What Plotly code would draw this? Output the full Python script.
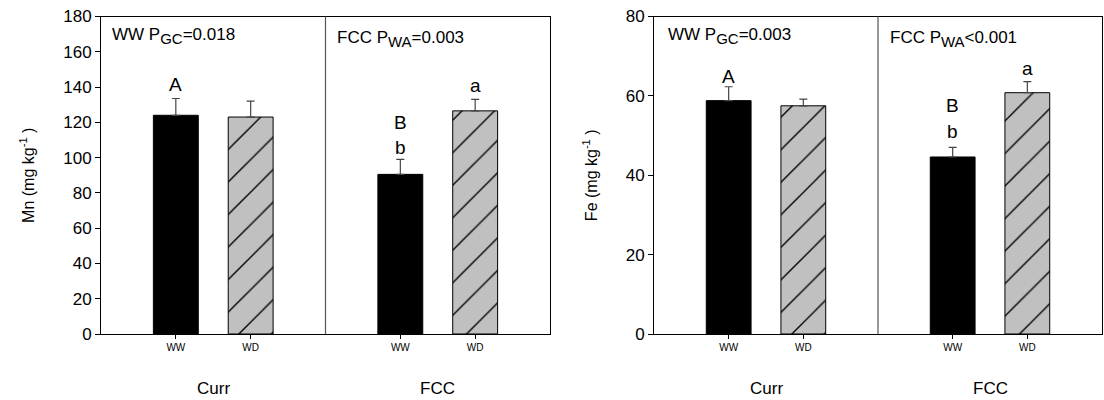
import plotly.graph_objects as go

# ---- data ----
x_pos = [1, 2, 4, 5]
tick_labels = ["WW", "WD", "WW", "WD"]
groups = ["Curr", "FCC"]
group_centers = [1.5, 4.5]

mn_ww = [124.0, 90.5]
mn_ww_err = [9.5, 8.5]
mn_wd = [123.0, 126.5]
mn_wd_err = [9.0, 6.5]

fe_ww = [58.8, 44.6]
fe_ww_err = [3.5, 2.4]
fe_wd = [57.5, 60.8]
fe_wd_err = [1.7, 2.8]

mn_letters = [("A", 1, 141.5), ("B", 4, 120.0), ("b", 4, 105.5), ("a", 5, 141.0)]
fe_letters = [("A", 1, 65.0), ("B", 4, 57.7), ("b", 4, 51.0), ("a", 5, 66.8)]

SUB = '<sub><span style="font-size:15px">{}</span></sub>'
mn_notes = [("WW P" + SUB.format("GC") + "=0.018", 0.12, 169),
            ("FCC P" + SUB.format("WA") + "=0.003", 3.13, 167)]
fe_notes = [("WW P" + SUB.format("GC") + "=0.003", 0.16, 75.2),
            ("FCC P" + SUB.format("WA") + "<0.001", 3.14, 74.3)]

FONT = "Liberation Sans, Arial, sans-serif"
W, H = 1104, 400

fig = go.Figure()

def add_panel(xa, ya, ww, ww_err, wd, wd_err):
    fig.add_trace(go.Bar(
        x=[x_pos[0], x_pos[2]], y=ww, width=0.6,
        marker=dict(color="black", line=dict(color="black", width=1)),
        error_y=dict(type="data", array=ww_err, arrayminus=[0, 0], symmetric=False,
                     color="#444444", thickness=1.2, width=4),
        xaxis=xa, yaxis=ya, showlegend=False))
    fig.add_trace(go.Bar(
        x=[x_pos[1], x_pos[3]], y=wd, width=0.6,
        marker=dict(color="#c0c0c0", line=dict(color="black", width=1),
                    pattern=dict(shape="/", fgcolor="black", bgcolor="#c0c0c0",
                                 size=23, solidity=0.06, fillmode="replace")),
        error_y=dict(type="data", array=wd_err, arrayminus=[0, 0], symmetric=False,
                     color="#444444", thickness=1.2, width=4),
        xaxis=xa, yaxis=ya, showlegend=False))

add_panel("x", "y", mn_ww, mn_ww_err, mn_wd, mn_wd_err)
add_panel("x2", "y2", fe_ww, fe_ww_err, fe_wd, fe_wd_err)

ytop = 1 - 16.5 / H
ybot = 1 - 334 / H

xcommon = dict(range=[0, 6], tickmode="array", tickvals=x_pos, ticktext=tick_labels,
               ticks="outside", ticklen=4, tickcolor="black", showline=True,
               linecolor="black", linewidth=1, mirror=True, showgrid=False, zeroline=False,
               automargin=False,
               tickfont=dict(family=FONT, size=10, color="black"))
ycommon = dict(ticks="outside", ticklen=5, tickcolor="black", showline=True,
               linecolor="black", linewidth=1, mirror=True, showgrid=False, zeroline=False,
               automargin=False,
               tickfont=dict(family=FONT, size=17, color="black"))

fig.update_layout(
    width=W, height=H,
    margin=dict(l=0, r=0, t=0, b=0, autoexpand=False),
    paper_bgcolor="white", plot_bgcolor="white",
    barmode="overlay",
    xaxis=dict(domain=[101 / W, 550 / W], anchor="y", **xcommon),
    xaxis2=dict(domain=[654 / W, 1102 / W], anchor="y2", **xcommon),
    yaxis=dict(domain=[ybot, ytop], anchor="x", range=[0, 180], dtick=20,
               title=dict(text="Mn (mg kg<sup>-1</sup> )", standoff=24,
                          font=dict(family=FONT, size=16, color="black")), **ycommon),
    yaxis2=dict(domain=[ybot, ytop], anchor="x2", range=[0, 80], dtick=20,
                title=dict(text="Fe (mg kg<sup>-1</sup> )", standoff=24,
                           font=dict(family=FONT, size=16, color="black")), **ycommon),
)

# dividers between Curr and FCC
for xr, yr in [("x", "y domain"), ("x2", "y2 domain")]:
    fig.add_shape(type="line", xref=xr, yref=yr, x0=3, x1=3, y0=0, y1=1,
                  line=dict(color="#555555", width=1.2))

annos = []
for xr, yr, letters, notes in [("x", "y", mn_letters, mn_notes), ("x2", "y2", fe_letters, fe_notes)]:
    for t, x, y in letters:
        annos.append(dict(text=t, x=x, y=y, xref=xr, yref=yr, showarrow=False,
                          yanchor="middle",
                          font=dict(family=FONT, size=19, color="black")))
    for t, x, y in notes:
        annos.append(dict(text=t, x=x, y=y, xref=xr, yref=yr, showarrow=False, xanchor="left",
                          yanchor="middle",
                          font=dict(family=FONT, size=17, color="black")))
    for g, c in zip(groups, group_centers):
        annos.append(dict(text=g, x=c, y=1 - 388 / H, xref=xr, yref="paper", showarrow=False,
                          yanchor="middle",
                          font=dict(family=FONT, size=17, color="black")))
fig.update_layout(annotations=annos)

fig.write_html("out.html")
